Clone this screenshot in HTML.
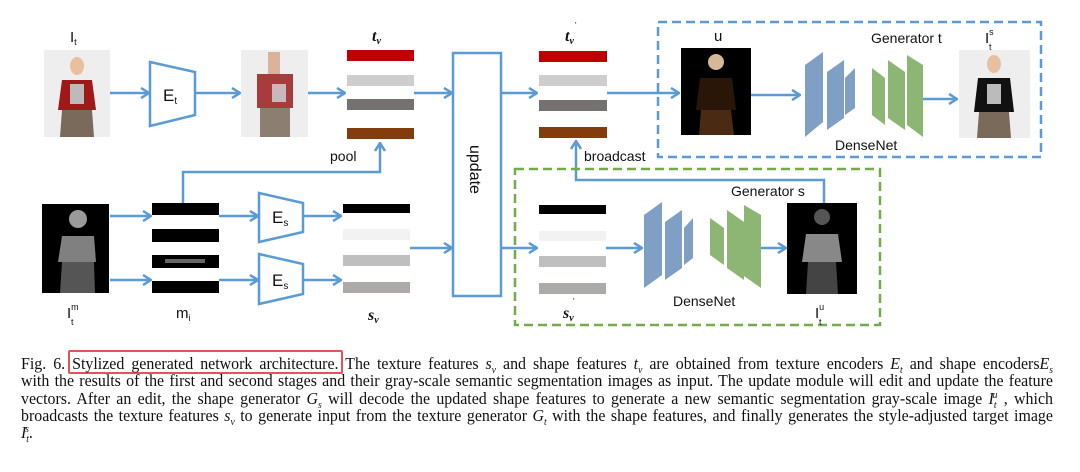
<!DOCTYPE html>
<html><head><meta charset="utf-8"><style>
body{margin:0;background:#fff;width:1080px;height:472px;overflow:hidden;position:relative}
svg{position:absolute;left:0;top:0}
.cap{position:absolute;left:21px;top:355px;width:1075px;transform:scaleX(0.96);transform-origin:0 0;font-family:"Liberation Serif",serif;font-size:16.6px;color:#111}
.cap div{height:17.3px;line-height:17.3px;text-align:justify;text-align-last:justify;white-space:nowrap}
.cap div.l{text-align-last:left}
.cap i{font-style:italic}
.s{font-size:10px;position:relative;top:4px}
.u{font-size:10px;position:relative;top:-6px}
.rb{position:absolute;left:68px;top:350px;width:275px;height:24px;border:2.5px solid #e8505b;border-radius:2px;box-sizing:border-box}
</style></head><body>
<svg width="1080" height="472" viewBox="0 0 1080 472" font-family="Liberation Sans, sans-serif">
<defs>
<marker id="a" markerWidth="10" markerHeight="12" refX="9" refY="6" orient="auto" markerUnits="userSpaceOnUse">
<polyline points="1,1 9,6 1,11" fill="none" stroke="#5b9bd5" stroke-width="2.5"/>
</marker>
</defs>
<g stroke="#5b9bd5" stroke-width="2.5" fill="none" marker-end="url(#a)">
<line x1="110" y1="93" x2="149" y2="93"/>
<line x1="195" y1="93" x2="240" y2="93"/>
<line x1="308" y1="93" x2="345" y2="93"/>
<line x1="414" y1="93" x2="452" y2="93"/>
<line x1="501" y1="93" x2="537" y2="93"/>
<line x1="607" y1="93" x2="679" y2="93"/>
<line x1="751" y1="95" x2="800" y2="95"/>
<line x1="923" y1="99" x2="957" y2="99"/>
<polyline points="183,203 183,172 380,172 380,143"/>
<line x1="110" y1="216" x2="151" y2="216"/>
<line x1="110" y1="280" x2="151" y2="280"/>
<line x1="219" y1="216" x2="258" y2="216"/>
<line x1="219" y1="280" x2="258" y2="280"/>
<line x1="303" y1="216" x2="341" y2="216"/>
<line x1="303" y1="280" x2="341" y2="280"/>
<line x1="410" y1="248" x2="452" y2="248"/>
<line x1="501" y1="248" x2="537" y2="248"/>
<line x1="606" y1="248" x2="642" y2="248"/>
<line x1="761" y1="248" x2="786" y2="248"/>
<polyline points="824,203 824,180 576,180 576,141"/>
</g>
<g stroke="#5b9bd5" stroke-width="2.5" fill="#fff">
<polygon points="150,62 195,72 195,115 150,126"/>
<polygon points="259,193 303,203 303,232 259,242"/>
<polygon points="259,254 303,264 303,294 259,304"/>
<rect x="453" y="53" width="48" height="243"/>
</g>
<g fill="none" stroke-width="2.5" stroke-dasharray="9,5">
<rect x="658" y="22" width="383" height="135" stroke="#5b9bd5"/>
<rect x="515" y="169" width="365" height="156" stroke="#70ad47"/>
</g>
<rect x="347" y="50" width="67" height="11" fill="#c00000"/>
<rect x="347" y="75" width="67" height="11" fill="#cfcdce"/>
<rect x="347" y="99" width="67" height="11" fill="#767171"/>
<rect x="347" y="128" width="67" height="11" fill="#843c0c"/>
<rect x="539" y="51" width="68" height="11" fill="#c00000"/>
<rect x="539" y="75" width="68" height="11" fill="#cfcdce"/>
<rect x="539" y="100" width="68" height="11" fill="#767171"/>
<rect x="539" y="127" width="68" height="11" fill="#843c0c"/>
<rect x="343" y="204" width="67" height="9" fill="#000"/>
<rect x="343" y="229" width="67" height="11" fill="#f2f2f2"/>
<rect x="343" y="255" width="67" height="11" fill="#bfbfbf"/>
<rect x="343" y="282" width="67" height="11" fill="#aeaaaa"/>
<rect x="539" y="205" width="67" height="9" fill="#000"/>
<rect x="539" y="231" width="67" height="10" fill="#f2f2f2"/>
<rect x="539" y="256" width="67" height="11" fill="#bfbfbf"/>
<rect x="539" y="283" width="67" height="11" fill="#aeaaaa"/>
<g fill="#000"><rect x="152" y="203" width="67" height="12"/><rect x="152" y="229" width="67" height="13"/><rect x="152" y="255" width="67" height="13"/><rect x="152" y="281" width="67" height="12"/></g>
<rect x="165" y="259" width="40" height="4" fill="#666"/>
<rect x="44" y="50" width="66" height="87" fill="#eeeeee"/>
<ellipse cx="77" cy="66" rx="7" ry="9" fill="#e8c0a0"/>
<path d="M62 80 L92 80 L96 110 L58 110 Z" fill="#a01818"/>
<rect x="70" y="84" width="14" height="20" fill="#bbb"/>
<path d="M62 110 L92 110 L94 137 L60 137 Z" fill="#7a6a5c"/>
<rect x="241" y="50" width="67" height="87" fill="#eeeeee"/>
<rect x="268" y="52" width="12" height="22" fill="#d9b49a"/>
<rect x="257" y="74" width="36" height="34" fill="#a83b3b"/>
<rect x="272" y="84" width="14" height="18" fill="#c9b8bb"/>
<rect x="260" y="108" width="30" height="29" fill="#8d7e72"/>
<rect x="42" y="204" width="67" height="89" fill="#000"/>
<circle cx="78" cy="219" r="9" fill="#9a9a9a"/>
<path d="M62 236 L94 236 L96 262 L58 262 Z" fill="#808080"/>
<path d="M62 262 L94 262 L95 293 L60 293 Z" fill="#555"/>
<rect x="681" y="48" width="70" height="87" fill="#000"/>
<circle cx="716" cy="62" r="8" fill="#d6b896"/>
<path d="M700 78 L732 78 L736 110 L696 110 Z" fill="#2a1608"/>
<path d="M701 110 L731 110 L734 135 L699 135 Z" fill="#4a2a12"/>
<rect x="959" y="50" width="71" height="88" fill="#eeeeee"/>
<ellipse cx="994" cy="64" rx="7" ry="9" fill="#e8c0a0"/>
<path d="M978 78 L1010 78 L1014 112 L974 112 Z" fill="#111"/>
<rect x="987" y="84" width="14" height="20" fill="#bbb"/>
<path d="M979 112 L1009 112 L1011 138 L977 138 Z" fill="#7a6a5c"/>
<rect x="787" y="203" width="70" height="91" fill="#000"/>
<circle cx="822" cy="217" r="8" fill="#555"/>
<path d="M806 234 L838 234 L842 262 L802 262 Z" fill="#888"/>
<path d="M808 262 L836 262 L838 294 L806 294 Z" fill="#444"/>
<g fill="#7fa0c4"><polygon points="805,65 823,52 823,122 805,137"/><polygon points="827,72 844,60 844,118 827,130"/><polygon points="845,78 855,68 855,108 845,115"/></g>
<g fill="#8db573"><polygon points="872,68 885,78 885,125 872,115"/><polygon points="888,60 905,72 905,130 888,118"/><polygon points="907,55 923,65 923,137 907,125"/></g>
<g fill="#7fa0c4"><polygon points="644,215 662,202 662,275 644,288"/><polygon points="665,222 682,210 682,268 665,280"/><polygon points="684,228 693,218 693,258 684,265"/></g>
<g fill="#8db573"><polygon points="710,218 724,228 724,265 710,255"/><polygon points="727,210 744,222 744,280 727,268"/><polygon points="744,205 761,215 761,288 744,276"/></g>
<g fill="#111" font-size="15">
<text x="70" y="42">I<tspan font-size="9" dy="3">t</tspan></text>
<text x="163" y="101" font-size="17">E<tspan font-size="10" dy="3">t</tspan></text>
<text x="272" y="223" font-size="17">E<tspan font-size="10" dy="3">s</tspan></text>
<text x="272" y="286" font-size="17">E<tspan font-size="10" dy="3">s</tspan></text>
<text x="372" y="41" font-style="italic" font-weight="bold" font-family="Liberation Serif, serif" font-size="16">t<tspan font-size="10" dy="3">v</tspan></text>
<text x="565" y="41" font-style="italic" font-weight="bold" font-family="Liberation Serif, serif" font-size="16">t<tspan font-size="10" dy="3">v</tspan></text>
<text x="575" y="28" font-size="8">'</text>
<text x="368" y="320" font-style="italic" font-weight="bold" font-family="Liberation Serif, serif" font-size="16">s<tspan font-size="10" dy="3">v</tspan></text>
<text x="563" y="318" font-style="italic" font-weight="bold" font-family="Liberation Serif, serif" font-size="16">s<tspan font-size="10" dy="3">v</tspan></text>
<text x="573" y="304" font-size="8">'</text>
<text x="67" y="318">I<tspan font-size="9" dy="-8">m</tspan></text><text x="71" y="325" font-size="9">t</text>
<text x="176" y="318">m<tspan font-size="9" dy="3">i</tspan></text>
<text x="330" y="161" font-size="14">pool</text>
<text x="584" y="161" font-size="14">broadcast</text>
<text x="714" y="41">u</text>
<text x="871" y="43" font-size="14">Generator t</text>
<text x="985" y="43">I<tspan font-size="9" dy="-8">s</tspan></text><text x="989" y="50" font-size="9">t</text>
<text x="835" y="150" font-size="14">DenseNet</text>
<text x="731" y="196" font-size="14">Generator s</text>
<text x="673" y="306" font-size="14">DenseNet</text>
<text x="815" y="318">I<tspan font-size="9" dy="-8">u</tspan></text><text x="819" y="325" font-size="9">t</text>
<text x="470" y="145" font-size="16" transform="rotate(90 470 145)">update</text>
</g>
</svg>
<div class="rb"></div>
<div class="cap">
<div>Fig. 6. Stylized generated network architecture. The texture features <i>s<span class="s">v</span></i> and shape features <i>t<span class="s">v</span></i> are obtained from texture encoders <i>E<span class="s">t</span></i> and shape encoders<i>E<span class="s">s</span></i></div>
<div>with the results of the first and second stages and their gray-scale semantic segmentation images as input. The update module will edit and update the feature</div>
<div>vectors. After an edit, the shape generator <i>G<span class="s">s</span></i> will decode the updated shape features to generate a new semantic segmentation gray-scale image <i>I<span class="s">t</span><span class="u" style="margin-left:-4px">u</span></i> , which</div>
<div>broadcasts the texture features <i>s<span class="s">v</span></i> to generate input from the texture generator <i>G<span class="s">t</span></i> with the shape features, and finally generates the style-adjusted target image</div>
<div class="l"><i>I<span class="s">t</span><span class="u" style="margin-left:-4px">s</span></i>.</div>
</div>
</body></html>
